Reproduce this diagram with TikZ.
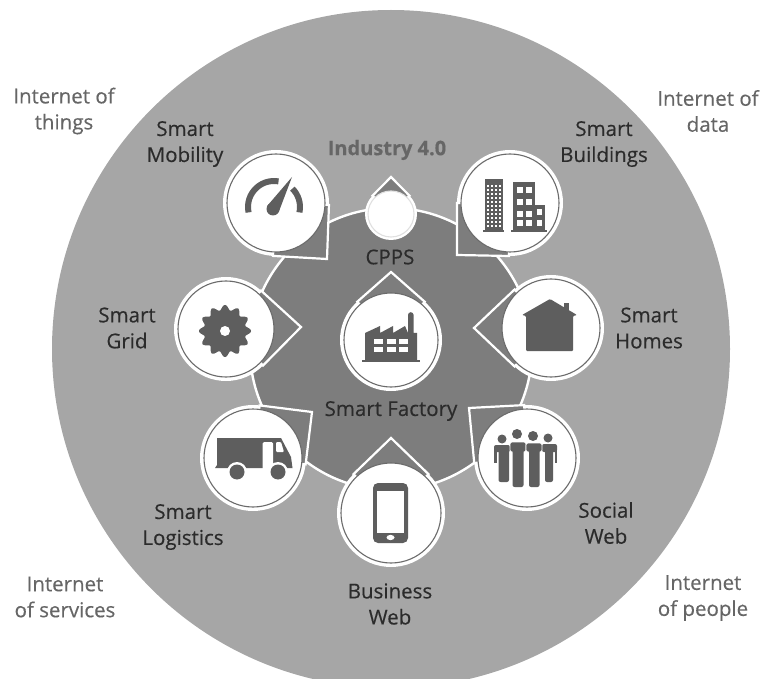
\documentclass[tikz,border=0pt]{standalone}
\usepackage{fontspec}
\setmainfont{Open Sans}[FakeBold=0.35]
\usetikzlibrary{calc}

\definecolor{outergray}{gray}{0.65}
\definecolor{coregray}{gray}{0.49}
\definecolor{icongray}{gray}{0.37}
\definecolor{ringgray}{gray}{0.42}
\definecolor{labelgray}{gray}{0.17}
\definecolor{fadedgray}{gray}{0.4}

\tikzset{
    pinback/.style={circle, fill=white, inner sep=0pt, outer sep=0pt},
    pinface/.style={circle, fill=white, draw=ringgray, line width=1.1pt, inner sep=0pt, outer sep=0pt},
    pinwedge/.style={fill=coregray, draw=white, line width=2.2pt, line join=miter},
    label/.style={align=center, text=labelgray, font=\fontsize{20.5}{26}\selectfont},
    faded/.style={align=center, text=fadedgray, font=\fontsize{20.5}{26}\selectfont}
}

% teardrop: name, centre, tip, diameter
\newcommand{\pin}[4]{
    \node[pinback, minimum size=#4pt] (#1) at (#2) {};
    \coordinate (#1tip) at (#3);
    \filldraw[pinwedge] (#1tip) -- (tangent cs:node=#1,point={(#1tip)},solution=1) -- (#1.center)
        -- (tangent cs:node=#1,point={(#1tip)},solution=2) -- cycle;
    \node[pinface, minimum size={#4pt-8pt}] at (#1) {};
}

\begin{document}
\begin{tikzpicture}[x=1pt, y=-1pt]
    \useasboundingbox (0,0) rectangle (761,679);

    \node[circle, fill=outergray, inner sep=0pt, minimum size=678pt] (outer) at (391,349) {};
    \node[circle, fill=coregray, draw=white, line width=2.4pt, inner sep=0pt, minimum size=282pt] (core) at (391,349) {};

    \pin{mobility}{276,203}{327,259}{106}
    \pin{buildings}{510,203}{457,255}{106}
    \pin{grid}{226,329}{301,327}{104}
    \pin{homes}{551,328}{474,328}{106}
    \pin{logistics}{253,458}{312,412}{106}
    \pin{social}{527,458}{469,408}{106}
    \pin{business}{391,513}{391,438}{108}
    \pin{factory}{391,340}{391,272}{102}
    \pin{industry}{391,214}{391,177}{52}
    \node[pinface, draw=black!12, minimum size=46pt] (cpps) at (industry) {};

    % gauge
    \draw[icongray, line width=6pt] (274,207) ++(192:26pt) arc[start angle=192, end angle=80, radius=26pt];
    \draw[icongray, line width=6pt] (274,207) ++(45:26pt) arc[start angle=45, end angle=-12, radius=26pt];
    \fill[icongray] (292,177) -- (278.6,212.3) -- (267.4,205.7) -- cycle;
    \fill[icongray] (273,209) circle[radius=6.5pt];

    % towers
    \fill[icongray] (485,179) rectangle (503,230);
    \fill[icongray] (483,230) rectangle (504,232);
    \foreach \wx in {487,491,495,499}
        \foreach \wy in {185,189,...,226}
            \fill[white] (\wx,\wy) rectangle ++(2.4,2.4);
    \fill[icongray] (513,182) rectangle (535,230);
    \fill[icongray] (535,205) rectangle (545,230);
    \fill[icongray] (511,230) rectangle (547,232);
    \foreach \wx in {517,526}
        \foreach \wy in {187,199,211,220}
            \fill[white] (\wx,\wy) rectangle ++(5.5,6.5);
    \foreach \wy in {209,220}
        \fill[white] (537,\wy) rectangle ++(5,6.5);

    % gear
    \fill[icongray] plot[domain=0:360, samples=241, smooth] ({225+(23.5+2.5*cos(12*\x))*cos(\x)},{331+(23.5+2.5*cos(12*\x))*sin(\x)}) -- cycle;
    \fill[white] (225,331) circle[radius=5pt];

    % house
    \fill[icongray] (564,303) rectangle (569,312);
    \fill[icongray, rounded corners=1pt] (550,299) -- (577,315) -- (573,316) -- (573,351) -- (526,351) -- (526,316) -- (522,315) -- cycle;

    % plant
    \fill[icongray] (365,333) -- (380,326) -- (380,333) -- (393,326) -- (393,333) -- (405,326) -- (408,333) -- (408,315)
        arc[start angle=180, end angle=0, radius=2.8pt] -- (413.6,333) -- (417,333) -- (417,360) -- (365,360) -- cycle;
    \fill[icongray] (362,360) rectangle (420,362);
    \foreach \wx in {374,387,399}
        \foreach \wy in {339,347}
            \fill[white] (\wx,\wy) rectangle ++(8.5,5);

    % van
    \fill[icongray] (217,438) -- (281,438) -- (291,457) -- (292.5,468) -- (215,468) -- (217,465) -- cycle;
    \fill[white, rounded corners=1.5pt] (262.5,442) rectangle (273,472);
    \fill[white, rounded corners=1pt] (276,442) -- (281,442) -- (284,452) -- (276,452) -- cycle;
    \fill[white] (237,472) circle[radius=10pt];
    \fill[white] (278,472) circle[radius=10pt];
    \fill[icongray] (237,472) circle[radius=7.5pt];
    \fill[icongray] (278,472) circle[radius=7.5pt];

    % crowd
    \fill[icongray] (502,439) circle[radius=4.5pt];
    \fill[icongray] (517,434) circle[radius=5pt];
    \fill[icongray] (533,436) circle[radius=5pt];
    \fill[icongray] (548,438) circle[radius=4.5pt];
    \fill[icongray, rounded corners=2pt] (494,445) rectangle (510,452);
    \fill[icongray] (494,448) rectangle (496.5,463);
    \fill[icongray, rounded corners=2pt] (498.5,447) rectangle (509,482);
    \fill[icongray, rounded corners=2pt] (542,444) rectangle (557,452);
    \fill[icongray] (554.5,448) rectangle (557,463);
    \fill[icongray, rounded corners=2pt] (545,447) rectangle (553,482);
    \fill[icongray, rounded corners=2pt, draw=white, line width=.8pt] (510,442) rectangle (526,452);
    \fill[icongray, rounded corners=2pt, draw=white, line width=.8pt] (526,443) rectangle (542,452);
    \fill[icongray, rounded corners=2pt] (512.5,446) rectangle (523.5,487);
    \fill[icongray, rounded corners=2pt] (529,446) rectangle (539.5,487);

    % phone
    \fill[icongray, rounded corners=5pt] (373,483) rectangle (408,543);
    \fill[white] (377,491) rectangle (404,533);
    \fill[white] (390.5,537.5) ellipse[x radius=4pt, y radius=2.6pt];

    \node[faded] (things) at (64,111) {Internet of\\things};
    \node[faded] (data) at (708,111) {Internet of\\data};
    \node[faded] (services) at (65,597) {Internet\\of services};
    \node[faded] (people) at (703,598) {Internet\\of people};

    \node[label] (mobilitytext) at (185,144) {Smart\\Mobility};
    \node[label] (buildingstext) at (604,144) {Smart\\Buildings};
    \node[label] (gridtext) at (127,328) {Smart\\Grid};
    \node[label] (homestext) at (649,328) {Smart\\Homes};
    \node[label] (logisticstext) at (183,527) {Smart\\Logistics};
    \node[label] (socialtext) at (606,523) {Social\\Web};
    \node[label] (businesstext) at (390,604) {Business\\Web};
    \node[label] (cppstext) at (390,257) {CPPS};
    \node[label] (factorytext) at (391,411) {Smart Factory};
    \node[faded, font=\fontsize{20}{26}\selectfont\bfseries] (industrytext) at (387,150) {Industry 4.0};
\end{tikzpicture}
\end{document}
